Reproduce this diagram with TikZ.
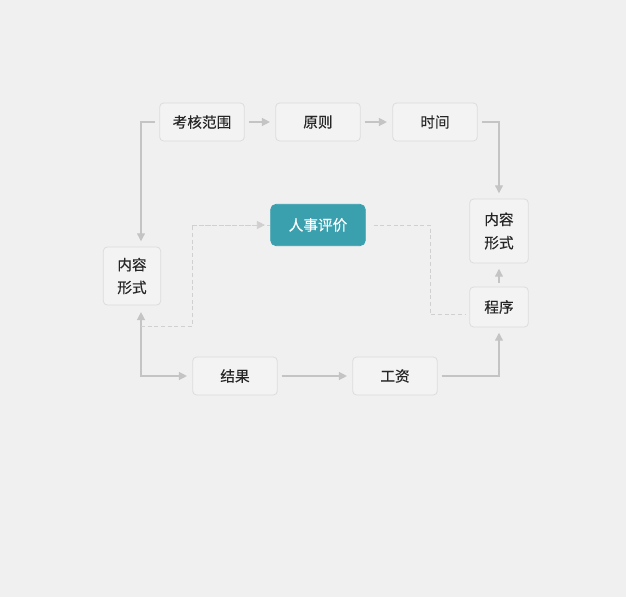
\documentclass[tikz,border=0pt]{standalone}
\usepackage{fontspec}
\setmainfont{Noto Sans CJK SC}[UprightFeatures = {FakeBold = 0.35}]
\usetikzlibrary{arrows.meta,positioning,calc}
\definecolor{bg}{HTML}{F0F0F0}
\definecolor{boxfill}{HTML}{F3F3F3}
\definecolor{boxline}{HTML}{DCDCDC}
\definecolor{linkgray}{HTML}{C4C4C4}
\definecolor{teal1}{HTML}{3AA0AE}

\begin{document}
\begin{tikzpicture}[
		x = 0.75pt, y = -0.75pt,
		box/.style = {draw = boxline, fill = boxfill, line width = 0.6pt, rounded corners = 3pt, minimum width = 63.5pt, minimum height = 28.5pt, inner sep = 0pt, text = black!85, font = \fontsize{11}{13}\selectfont},
		tallbox/.style = {box, minimum width = 44pt, minimum height = 48pt, align = center, font = \fontsize{11}{17.5}\selectfont},
		mainbox/.style = {box, draw = teal1, fill = teal1, text = white, rounded corners = 4pt, minimum width = 71pt, minimum height = 31pt},
		link/.style = {draw = linkgray, line width = 1pt, -{Triangle[length = 6pt, width = 6pt]}, shorten < = 3pt, shorten > = 4pt},
		dlink/.style = {draw = linkgray!80, line width = 0.6pt, dash pattern = on 3pt off 2pt}
		]
\useasboundingbox[fill = bg] (0,0) rectangle (626,597);

\node[box] (scope) at (202,122) {考核范围};
\node[box] (rule) at (318,122) {原则};
\node[box] (time) at (435,122) {时间};
\node[mainbox] (eval) at (318,225) {人事评价};
\node[tallbox] (formR) at (499,231) {内容\\形式};
\node[box, minimum width = 44pt, minimum height = 30pt] (proc) at (499,307) {程序};
\node[tallbox, minimum height = 43.5pt, minimum width = 43pt, font = \fontsize{11}{17}\selectfont] (formL) at (132,276) {内容\\形式};
\node[box] (result) at (235,376) {结果};
\node[box] (wage) at (395,376) {工资};

% helper points for the left bend and the dashed lines
\coordinate (lx) at (141,376);
\coordinate (d1) at (141,326);
\coordinate (d2) at (192,326);
\coordinate (d3) at (430,314);

\draw[link] (scope) -- (rule);
\draw[link] (rule) -- (time);
\draw[link] (time.east) -| (formR.north);
\draw[link] (scope.west) -| (lx |- formL.north);
\draw[link, {Triangle[length = 6pt, width = 6pt]}-{Triangle[length = 6pt, width = 6pt]}, shorten < = 5pt] (lx |- formL.south) |- (result.west);
\draw[link] (result) -- (wage);
\draw[link] (wage.east) -| (proc.south);
\draw[link] (proc) -- (formR);

\draw[dlink] (d1) -- (d2) |- (eval.west);
\draw[dlink, -{Triangle[length = 6pt, width = 6pt]}, shorten > = 4pt, draw = linkgray!80] (d2 |- eval.west) -- (eval.west);
\draw[dlink, shorten < = 6pt, shorten > = 3pt] (eval.east) -| (d3) -- (proc.west |- d3);

\end{tikzpicture}
\end{document}
